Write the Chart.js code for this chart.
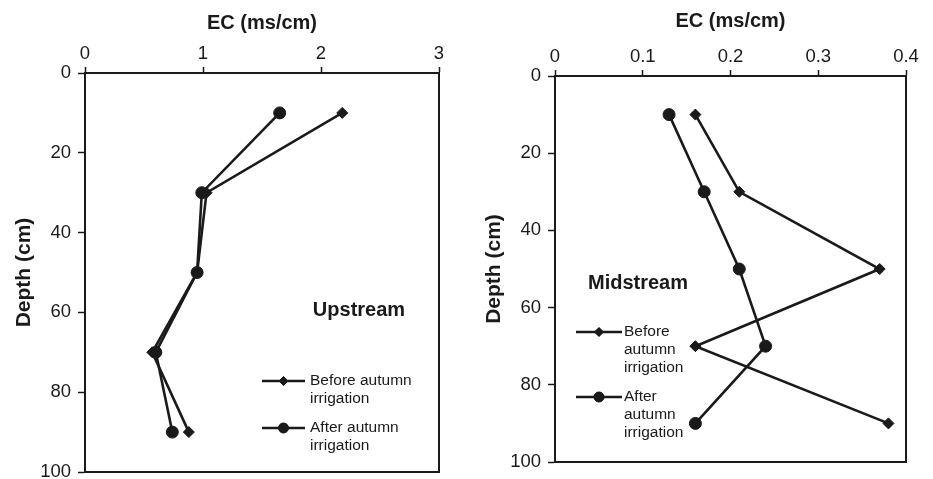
<!DOCTYPE html>
<html>
<head>
<meta charset="utf-8">
<script src="https://cdn.jsdelivr.net/npm/chart.js@4.4.1/dist/chart.umd.min.js"></script>
<style>
body{margin:0;background:#fff;}
#wrap{position:relative;width:933px;height:479px;}
canvas{position:absolute;top:0;}
#upstream{left:0;}
#midstream{left:466px;}
</style>
</head>
<body>
<div id="wrap">
<canvas id="upstream" width="466" height="479"></canvas>
<canvas id="midstream" width="467" height="479"></canvas>
</div>
<script>
// soil depth of each sample (cm)
var depth = [10, 30, 50, 70, 90];

// EC readings, upstream site
var upBefore = [2.18, 1.03, 0.95, 0.57, 0.88];
var upAfter  = [1.65, 0.99, 0.95, 0.60, 0.74];

// EC readings, midstream site
var midBefore = [0.16, 0.21, 0.37, 0.16, 0.38];
var midAfter  = [0.13, 0.17, 0.21, 0.24, 0.16];

// axis ticks
var upTicks    = [0, 1, 2, 3];
var midTicks   = [0, 0.1, 0.2, 0.3, 0.4];
var depthTicks = [0, 20, 40, 60, 80, 100];

var seriesNames = ['Before autumn irrigation', 'After autumn irrigation'];
var upLegend  = [['Before autumn', 'irrigation'], ['After autumn', 'irrigation']];
var midLegend = [['Before', 'autumn', 'irrigation'], ['After', 'autumn', 'irrigation']];

var ink = '#1a1a1a';
var face = "'Liberation Sans', Arial, sans-serif";
Chart.defaults.font.family = face;
Chart.defaults.color = ink;

function pairs(xs){
    return xs.map(function(v, i){ return {x: v, y: depth[i]}; });
}

function series(values, name, style, radius){
    return {
        label: name,
        data: pairs(values),
        showLine: true,
        borderColor: ink,
        borderWidth: 2.6,
        backgroundColor: ink,
        pointStyle: style,
        pointRadius: radius,
        pointBorderWidth: 1,
        pointBorderColor: ink,
        pointBackgroundColor: ink
    };
}

// box round the plot, site name and the little legend inside it
var panelNote = {
    id: 'panelNote',
    afterDraw: function(chart, args, o){
        var ctx = chart.ctx, a = chart.chartArea;
        ctx.save();
        ctx.strokeStyle = ink;
        ctx.lineWidth = 2;
        ctx.strokeRect(a.left, a.top, a.right - a.left, a.bottom - a.top);

        ctx.fillStyle = ink;
        ctx.font = 'bold 20px ' + face;
        ctx.textAlign = 'center';
        ctx.textBaseline = 'middle';
        ctx.fillText(o.site, o.siteX, o.siteY);

        ctx.font = '15.5px ' + face;
        ctx.textAlign = 'left';
        var styles = [{s: 'rectRot', r: 4.5}, {s: 'circle', r: 5}];
        o.rows.forEach(function(lines, i){
            var y = o.rowY[i];
            ctx.strokeStyle = ink;
            ctx.lineWidth = 2.5;
            ctx.beginPath();
            ctx.moveTo(o.lineX0, y);
            ctx.lineTo(o.lineX1, y);
            ctx.stroke();
            ctx.lineWidth = 1;
            Chart.helpers.drawPoint(ctx, {pointStyle: styles[i].s, radius: styles[i].r, borderWidth: 1}, (o.lineX0 + o.lineX1) / 2, y);
            ctx.fill();
            lines.forEach(function(t, k){
                ctx.fillText(t, o.textX, y + k * 18);
            });
        });
        ctx.restore();
    }
};

function scales(xTicks, f){
    return {
        x: {
            type: 'linear', position: 'top',
            min: xTicks[0], max: xTicks[xTicks.length - 1],
            afterBuildTicks: function(s){ s.ticks = xTicks.map(function(v){ return {value: v}; }); },
            afterFit: function(s){ s.height = f.top; s.paddingLeft = 0; s.paddingRight = 0; },
            ticks: {color: ink, font: {size: 18.5}, padding: 2, callback: function(v){ return String(v); }},
            grid: {drawOnChartArea: false, color: ink, tickLength: 6, tickWidth: 1.5},
            border: {color: ink, width: 2},
            title: {display: true, text: 'EC (ms/cm)', color: ink, font: {size: 20, weight: 'bold'}, padding: {top: f.xTitle, bottom: 0}}
        },
        y: {
            type: 'linear', reverse: true, min: 0, max: 100,
            afterBuildTicks: function(s){ s.ticks = depthTicks.map(function(v){ return {value: v}; }); },
            afterFit: function(s){ s.width = f.left; s.paddingTop = 0; s.paddingBottom = 0; },
            ticks: {color: ink, font: {size: 18.5}, padding: f.yPad},
            grid: {drawOnChartArea: false, color: ink, tickLength: 7, tickWidth: 1.5},
            border: {color: ink, width: 2},
            title: {display: true, text: 'Depth (cm)', color: ink, font: {size: 21, weight: 'bold'}, padding: {top: f.yTitle, bottom: 0}}
        }
    };
}

function makeChart(id, before, after, xTicks, f, note){
    return new Chart(document.getElementById(id), {
        type: 'scatter',
        data: {
            datasets: [
                series(before, seriesNames[0], 'rectRot', 5.5),
                series(after, seriesNames[1], 'circle', 6)
            ]
        },
        options: {
            responsive: false,
            animation: false,
            events: [],
            layout: {padding: {left: 0, top: 0, right: f.right, bottom: f.bottom}},
            scales: scales(xTicks, f),
            plugins: {legend: {display: false}, tooltip: {enabled: false}, panelNote: note}
        },
        plugins: [panelNote]
    });
}

makeChart('upstream', upBefore, upAfter, upTicks,
    {top: 73, left: 85, right: 27, bottom: 7, xTitle: 11, yTitle: 12, yPad: 7},
    {site: 'Upstream', siteX: 359, siteY: 310, rows: upLegend, rowY: [381, 428], lineX0: 262, lineX1: 305, textX: 310});

makeChart('midstream', midBefore, midAfter, midTicks,
    {top: 76, left: 89, right: 27, bottom: 17, xTitle: 9, yTitle: 16, yPad: 7},
    {site: 'Midstream', siteX: 172, siteY: 283, rows: midLegend, rowY: [332, 397], lineX0: 110, lineX1: 156, textX: 158});
</script>
</body>
</html>
